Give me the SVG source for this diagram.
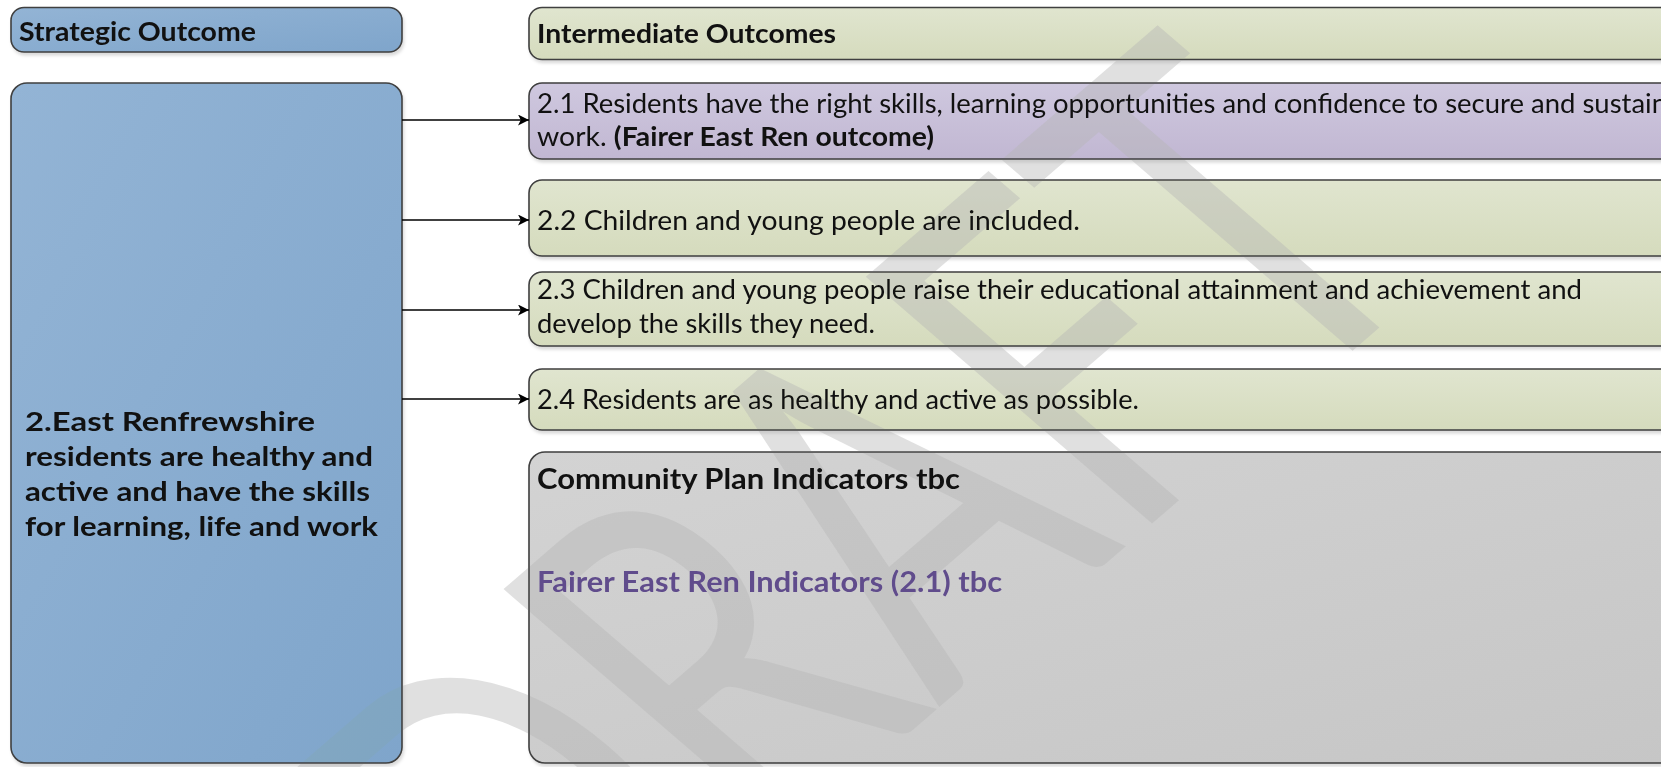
<svg xmlns="http://www.w3.org/2000/svg" width="1661" height="767" viewBox="0 0 1661 767">
  <defs>
    <linearGradient id="gBlue" x1="0" y1="0" x2="1" y2="1">
      <stop offset="0" stop-color="#93b4d5"/>
      <stop offset="1" stop-color="#7fa5cb"/>
    </linearGradient>
    <linearGradient id="gGreen" x1="0" y1="0" x2="0" y2="1">
      <stop offset="0" stop-color="#e0e5cf"/>
      <stop offset="1" stop-color="#d5dbbd"/>
    </linearGradient>
    <linearGradient id="gPurple" x1="0" y1="0" x2="0" y2="1">
      <stop offset="0" stop-color="#cfc8df"/>
      <stop offset="1" stop-color="#c1b7d2"/>
    </linearGradient>
    <linearGradient id="gGrey" x1="0" y1="0" x2="1" y2="1">
      <stop offset="0" stop-color="#d3d3d3"/>
      <stop offset="1" stop-color="#c6c6c6"/>
    </linearGradient>
    <filter id="shadow" x="-5%" y="-5%" width="110%" height="120%">
      <feDropShadow dx="1.5" dy="3" stdDeviation="1.5" flood-color="#000" flood-opacity="0.14"/>
    </filter>
    <marker id="arrow" viewBox="0 0 10 10" refX="10" refY="5" markerWidth="11" markerHeight="11" markerUnits="userSpaceOnUse" orient="auto">
      <path d="M0,0 L10,5 L0,10 L2.5,5 Z" fill="#000"/>
    </marker>
  </defs>
  <style>
    .box { stroke: #3f3f3f; stroke-width: 1.6; filter: url(#shadow); }
    .blue { fill: url(#gBlue); }
    .green { fill: url(#gGreen); }
    .purple { fill: url(#gPurple); }
    .grey { fill: url(#gGrey); }
    text { font-family: Lato, "Open Sans", sans-serif; fill: #111; }
    .t { font-size: 26px; }
    .b { font-weight: bold; }
    .hd { font-size: 26px; font-weight: bold; }
    .big { font-size: 29px; font-weight: bold; }
    .lead { font-size: 27px; font-weight: bold; }
    .ind { fill: #604c8c; }
    .conn { stroke: #000; stroke-width: 1.6; fill: none; marker-end: url(#arrow); }
    /* translucent watermark; "darken" keeps dark lettering on top untouched */
    .wm { font-family: Lato, "Open Sans", sans-serif; font-size: 487px; fill: #b6b6b6; fill-opacity: 0.42; mix-blend-mode: darken; }
  </style>

  <rect width="1661" height="767" fill="#fff"/>

  <!-- left column -->
  <g id="strategic-header">
    <rect class="box blue" x="11" y="7.5" width="391" height="44.5" rx="13"/>
    <text class="hd" x="19" y="41" textLength="237" lengthAdjust="spacingAndGlyphs">Strategic Outcome</text>
  </g>
  <g id="strategic-outcome">
    <rect class="box blue" x="11" y="83" width="391" height="680" rx="16"/>
    <text class="lead" x="25" y="430.5" textLength="290" lengthAdjust="spacingAndGlyphs">2.East Renfrewshire</text>
    <text class="lead" x="25" y="465.5" textLength="348" lengthAdjust="spacingAndGlyphs">residents are healthy and</text>
    <text class="lead" x="25" y="500.5" textLength="345" lengthAdjust="spacingAndGlyphs">active and have the skills</text>
    <text class="lead" x="25" y="535.5" textLength="353" lengthAdjust="spacingAndGlyphs">for learning, life and work</text>
  </g>

  <!-- right column -->
  <g id="intermediate-header">
    <rect class="box green" x="529" y="7.5" width="1160" height="52" rx="13"/>
    <text class="hd" x="537" y="43" textLength="299" lengthAdjust="spacingAndGlyphs">Intermediate Outcomes</text>
  </g>
  <g id="outcome-2-1">
    <rect class="box purple" x="529" y="83" width="1160" height="76" rx="13"/>
    <text class="t" x="537" y="113" textLength="1130" lengthAdjust="spacingAndGlyphs">2.1 Residents have the right skills, learning opportunities and confidence to secure and sustain</text>
    <text class="t" x="537" y="146" textLength="397" lengthAdjust="spacingAndGlyphs">work. <tspan class="b">(Fairer East Ren outcome)</tspan></text>
  </g>
  <g id="outcome-2-2">
    <rect class="box green" x="529" y="180" width="1160" height="76" rx="13"/>
    <text class="t" x="537" y="230" textLength="543" lengthAdjust="spacingAndGlyphs">2.2 Children and young people are included.</text>
  </g>
  <g id="outcome-2-3">
    <rect class="box green" x="529" y="272" width="1160" height="74" rx="13"/>
    <text class="t" x="537" y="299" textLength="1045" lengthAdjust="spacingAndGlyphs">2.3 Children and young people raise their educational attainment and achievement and</text>
    <text class="t" x="537" y="333" textLength="338" lengthAdjust="spacingAndGlyphs">develop the skills they need.</text>
  </g>
  <g id="outcome-2-4">
    <rect class="box green" x="529" y="369" width="1160" height="61" rx="13"/>
    <text class="t" x="537" y="409" textLength="602" lengthAdjust="spacingAndGlyphs">2.4 Residents are as healthy and active as possible.</text>
  </g>
  <g id="indicators">
    <rect class="box grey" x="529" y="452" width="1160" height="311" rx="16"/>
    <text class="big" x="537" y="488.5" textLength="423" lengthAdjust="spacingAndGlyphs">Community Plan Indicators tbc</text>
    <text class="big ind" x="537" y="591.5" textLength="465" lengthAdjust="spacingAndGlyphs">Fairer East Ren Indicators (2.1) tbc</text>
  </g>

  <!-- connectors -->
  <g id="connectors">
    <line class="conn" x1="402" y1="120" x2="529" y2="120"/>
    <line class="conn" x1="402" y1="220" x2="529" y2="220"/>
    <line class="conn" x1="402" y1="310" x2="529" y2="310"/>
    <line class="conn" x1="402" y1="399" x2="529" y2="399"/>
  </g>

  <!-- diagonal watermark, slightly widened -->
  <g id="watermark">
    <text class="wm" x="0" y="0" transform="translate(553 1040) scale(1.16 1) rotate(-45)" textLength="1091" lengthAdjust="spacingAndGlyphs">DRAFT</text>
  </g>
</svg>
